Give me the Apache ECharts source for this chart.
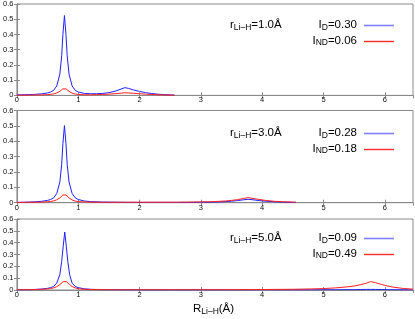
<!DOCTYPE html>
<html><head><meta charset="utf-8">
<script src="https://cdn.jsdelivr.net/npm/echarts@6/dist/echarts.min.js"></script>
<style>html,body{margin:0;padding:0;background:#fff}#c{width:415px;height:319px}</style>
</head><body><div id="c"></div>
<script>
// Panel 1 (r = 1.0 Å)
const xs1 = [0,0.1,0.2,0.3,0.4,0.5,0.55,0.6,0.65,0.7,0.73,0.75,0.775,0.8,0.82,0.85,0.9,0.95,1.0,1.1,1.2,1.3,1.4,1.5,1.6,1.7,1.76,1.82,1.9,2.0,2.1,2.2,2.3,2.4,2.5,2.57];
const blue1 = [0.003,0.004,0.005,0.007,0.01,0.016,0.022,0.034,0.062,0.14,0.26,0.4,0.524,0.4,0.26,0.14,0.062,0.034,0.022,0.013,0.011,0.011,0.013,0.018,0.027,0.042,0.051,0.046,0.036,0.026,0.018,0.012,0.008,0.005,0.003,0.002];
const red1 = [0.002,0.002,0.002,0.003,0.003,0.005,0.007,0.01,0.016,0.027,0.036,0.043,0.048,0.043,0.036,0.027,0.015,0.009,0.006,0.004,0.004,0.005,0.006,0.008,0.011,0.015,0.017,0.016,0.014,0.011,0.008,0.006,0.004,0.003,0.002,0.001];
// Panel 2 (r = 3.0 Å)
const xs2 = [0,0.1,0.2,0.3,0.4,0.5,0.55,0.6,0.65,0.7,0.73,0.75,0.775,0.8,0.82,0.85,0.9,0.95,1.0,1.1,1.2,1.4,1.6,1.8,2.0,2.2,2.4,2.6,2.8,3.0,3.2,3.4,3.5,3.6,3.7,3.77,3.85,3.95,4.05,4.2,4.35,4.5,4.55];
const blue2 = [0.002,0.003,0.004,0.006,0.009,0.015,0.021,0.032,0.06,0.135,0.25,0.385,0.502,0.385,0.25,0.135,0.06,0.032,0.021,0.011,0.007,0.004,0.003,0.002,0.002,0.002,0.002,0.002,0.002,0.003,0.004,0.007,0.01,0.014,0.019,0.022,0.019,0.014,0.01,0.006,0.004,0.002,0.002];
const red2 = [0.002,0.002,0.003,0.003,0.004,0.006,0.008,0.012,0.019,0.031,0.042,0.05,0.055,0.05,0.042,0.031,0.018,0.011,0.007,0.005,0.004,0.003,0.003,0.003,0.003,0.003,0.003,0.003,0.004,0.005,0.007,0.011,0.015,0.02,0.028,0.033,0.028,0.021,0.015,0.009,0.006,0.004,0.003];
// Panel 3 (r = 5.0 Å)
const xs3 = [0,0.1,0.2,0.3,0.4,0.5,0.55,0.6,0.65,0.7,0.73,0.755,0.78,0.805,0.83,0.86,0.9,0.95,1.0,1.1,1.2,1.4,1.6,2,2.5,3,3.5,4,4.5,4.8,5.0,5.2,5.4,5.5,5.6,5.7,5.77,5.85,5.95,6.05,6.15,6.3,6.46];
const blue3 = [0.001,0.002,0.003,0.005,0.008,0.014,0.02,0.031,0.058,0.13,0.24,0.37,0.49,0.37,0.24,0.13,0.058,0.031,0.02,0.01,0.006,0.003,0.002,0.001,0.001,0.001,0.001,0.001,0.001,0.001,0.002,0.002,0.003,0.003,0.004,0.005,0.005,0.005,0.004,0.003,0.002,0.002,0.001];
const red3 = [0.002,0.002,0.003,0.004,0.006,0.009,0.012,0.018,0.028,0.046,0.06,0.071,0.077,0.071,0.06,0.046,0.03,0.018,0.011,0.006,0.004,0.003,0.002,0.002,0.002,0.002,0.003,0.004,0.006,0.009,0.012,0.018,0.027,0.034,0.044,0.058,0.071,0.062,0.046,0.033,0.023,0.013,0.007];

const rLabels = ['1.0','3.0','5.0'];
const idLabels = ['0.30','0.28','0.09'];
const indLabels = ['0.06','0.18','0.49'];
const xTitle = ['R','Li–H','(Å)'];

const XS = [xs1,xs2,xs3], BL = [blue1,blue2,blue3], RD = [red1,red2,red3];
const tops = [3,110.5,219], heights = [92.4,92.2,71];
const BLUE = '#1f1fff', RED = '#ff1f1f', FRAME = '#8a8a8a', TXT = '#111';
const FONT = 'Liberation Sans';

const grid=[], xAxis=[], yAxis=[], series=[], graphic=[];
const rich = {
  m:{fontSize:11.5, lineHeight:14, fontFamily:FONT, color:TXT},
  s:{fontSize:8.5, lineHeight:8, fontFamily:FONT, color:TXT, verticalAlign:'bottom'}
};
const fmtY = v => v===0 ? '0' : v.toFixed(1);
for (let i=0;i<3;i++){
  grid.push({left:14,right:2,top:tops[i],height:heights[i],show:true,borderColor:FRAME,borderWidth:1});
  const xb = {gridIndex:i,type:'value',min:0,max:6.46,interval:1,
    axisLine:{show:true,lineStyle:{color:FRAME}},
    axisTick:{show:true,inside:true,length:3,lineStyle:{color:FRAME}},
    splitLine:{show:false}};
  xAxis.push(Object.assign({},xb,{position:'bottom',
    axisLabel:{show:true,fontSize:7.5,margin:1,color:TXT,fontFamily:FONT,showMaxLabel:false}}));
  xAxis.push(Object.assign({},xb,{position:'top',axisLabel:{show:false}}));
  const yb = {gridIndex:i,type:'value',min:0,max:0.6,interval:0.1,
    axisLine:{show:true,lineStyle:{color:FRAME}},
    axisTick:{show:true,inside:true,length:3,lineStyle:{color:FRAME}},
    splitLine:{show:false}};
  yAxis.push(Object.assign({},yb,{position:'left',
    axisLabel:{show:true,fontSize:7.5,margin:3.5,color:TXT,fontFamily:FONT,formatter:fmtY}}));
  yAxis.push(Object.assign({},yb,{position:'right',axisLabel:{show:false}}));
  const xsi = XS[i];
  series.push({type:'line',xAxisIndex:2*i,yAxisIndex:2*i,showSymbol:false,symbol:'none',
    data:xsi.map((x,j)=>[x,BL[i][j]]),lineStyle:{color:BLUE,width:1},color:BLUE,z:2});
  series.push({type:'line',xAxisIndex:2*i,yAxisIndex:2*i,showSymbol:false,symbol:'none',
    data:xsi.map((x,j)=>[x,RD[i][j]]),lineStyle:{color:RED,width:1},color:RED,z:3});
}
const legY = [[25,40.5],[133,148.5],[238,253.5]];
for (let i=0;i<3;i++){
  const [y1,y2] = legY[i];
  graphic.push({id:'r'+i,type:'text',x:230,y:y1,style:{text:'{m|r}{s|Li–H}{m|='+rLabels[i]+'Å}',rich,align:'left',verticalAlign:'middle'}});
  graphic.push({id:'d'+i,type:'text',x:357,y:y1,style:{text:'{m|I}{s|D}{m|='+idLabels[i]+'}',rich,align:'right',verticalAlign:'middle'}});
  graphic.push({id:'n'+i,type:'text',x:357,y:y2,style:{text:'{m|I}{s|ND}{m|='+indLabels[i]+'}',rich,align:'right',verticalAlign:'middle'}});
  graphic.push({id:'lb'+i,type:'rect',shape:{x:364,y:y1-0.3,width:30,height:1.6},style:{fill:'#8080ff'},z:10});
  graphic.push({id:'lr'+i,type:'rect',shape:{x:364,y:y2+0.3,width:30,height:1.4},style:{fill:'#ff2a2a'},z:10});
}
graphic.push({id:'xt',type:'text',x:193,y:309,style:{text:'{m|'+xTitle[0]+'}{s|'+xTitle[1]+'}{m|'+xTitle[2]+'}',rich,align:'left',verticalAlign:'middle'}});

const chart = echarts.init(document.getElementById('c'),null,{renderer:'canvas'});
chart.setOption({animation:false,backgroundColor:'#fff',grid,xAxis,yAxis,series,graphic});
</script></body></html>
